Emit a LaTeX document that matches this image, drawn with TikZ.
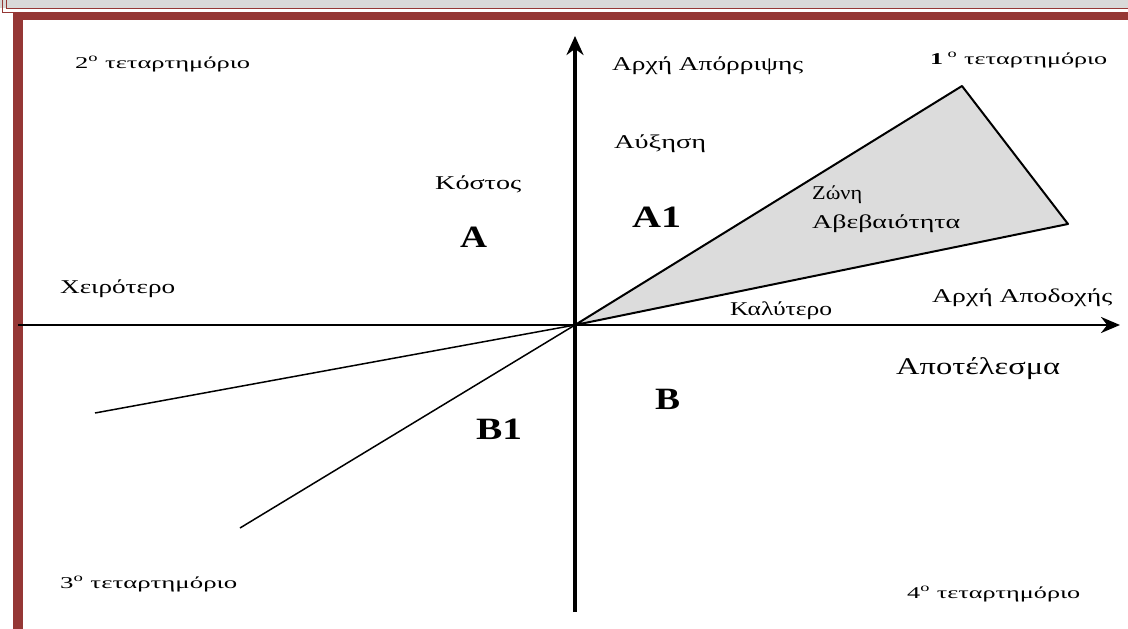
\documentclass[tikz,border=0pt]{standalone}
\usepackage{fontspec}
\setmainfont{Liberation Serif}
\usepackage{graphicx}
\usetikzlibrary{arrows.meta}
\definecolor{frame}{HTML}{953735}
\definecolor{band}{HTML}{D9D9D9}
\definecolor{zone}{HTML}{DCDCDC}
\newcommand{\fitw}[2]{\resizebox{#1pt}{\height}{#2}}
\tikzset{
  lbl/.style={anchor=base west, inner sep=0pt, font=\fontsize{19.5}{21}\selectfont},
  small/.style={anchor=base west, inner sep=0pt, font=\fontsize{16.5}{18}\selectfont},
  bigl/.style={anchor=base west, inner sep=0pt, font=\fontsize{31}{33}\selectfont\bfseries},
  axis/.style={line width=3.5pt, -{Stealth[length=19pt,width=17pt]}},
  haxis/.style={line width=2.8pt, -{Stealth[length=19pt,width=16pt]}},
  edge/.style={line width=2pt, line join=round},
  thin/.style={line width=1.5pt}
}
\begin{document}
\begin{tikzpicture}[x=1pt,y=1pt]
\useasboundingbox (0,0) rectangle (1128,-629);
\fill[white] (0,0) rectangle (1128,-629);
% frame
\fill[band] (0,0) rectangle (1128,-8);
\draw[frame, line width=1pt] (2,0) -- (2,-12) -- (1128,-12);
\draw[frame, line width=1pt] (6,0) -- (6,-8.5) -- (1128,-8.5);
\fill[frame] (13,-12.5) rectangle (1128,-20);
\fill[frame] (13,-12.5) rectangle (23,-629);
% coordinates
\coordinate (O) at (575,-325);
\coordinate (P1) at (962,-86);
\coordinate (P2) at (1068,-224);
\coordinate (L1) at (95,-413);
\coordinate (L2) at (240,-528);
\coordinate (xl) at (18,-325);
\coordinate (xr) at (1120,-325);
\coordinate (yb) at (575,-612);
\coordinate (yt) at (575,-36);
% zone
\filldraw[edge, fill=zone] (O) -- (P1) -- (P2) -- cycle;
\draw[thin] (O) -- (L1);
\draw[thin] (O) -- (L2);
% axes
\draw[haxis] (xl) -- (xr);
\draw[axis] (yb) -- (yt);
% labels
\node[small] (q2) at (75,-68) {\fitw{175}{2\textsuperscript{ο} τεταρτημόριο}};
\node[lbl] (arxiapor) at (612,-70) {\fitw{191}{Αρχή Απόρριψης}};
\node[small] (q1) at (930,-64) {\fitw{177}{\textbf{1}\,\textsuperscript{ο} τεταρτημόριο}};
\node[lbl] (auxisi) at (614,-148) {\fitw{92}{Αύξηση}};
\node[lbl] (kostos) at (435,-189) {\fitw{86}{Κόστος}};
\node[bigl] (a1) at (632,-227) {\fitw{49}{A1}};
\node[bigl] (a) at (460,-247) {\fitw{27}{A}};
\node[lbl] (zoni) at (812,-199) {\fitw{50}{Ζώνη}};
\node[lbl] (abeb) at (812,-228) {\fitw{148}{Αβεβαιότητα}};
\node[lbl] (xeir) at (60,-293) {\fitw{115}{Χειρότερο}};
\node[lbl] (arxiapod) at (932,-302) {\fitw{180}{Αρχή Αποδοχής}};
\node[lbl] (kalyt) at (730,-315) {\fitw{102}{Καλύτερο}};
\node[lbl, font=\fontsize{24}{26}\selectfont] (apot) at (896,-374) {\fitw{164}{Αποτέλεσμα}};
\node[bigl] (b) at (655,-409) {\fitw{25}{B}};
\node[bigl] (b1) at (476,-439) {\fitw{46}{B1}};
\node[small] (q3) at (60,-588) {\fitw{177}{3\textsuperscript{ο} τεταρτημόριο}};
\node[small] (q4) at (907,-598) {\fitw{173}{4\textsuperscript{ο} τεταρτημόριο}};
\end{tikzpicture}
\end{document}
